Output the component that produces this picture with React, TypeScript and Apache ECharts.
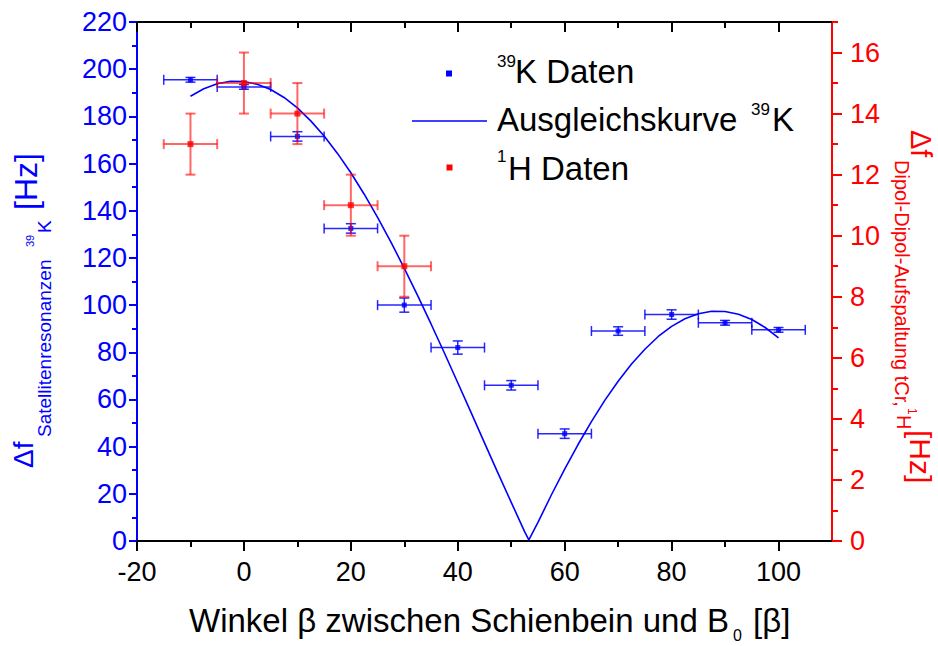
import React, { useEffect, useRef } from "react";
import * as echarts from "echarts";

// 39K satellite splitting vs. angle (left axis, Hz)
const kAngle = [-10, 0, 10, 20, 30, 40, 50, 60, 70, 80, 90, 100];
const kShift = [195.5, 192.5, 171.5, 132.5, 100, 82, 66, 45.5, 89, 96, 92.5, 89.5];
const kErrX = [5, 5, 5, 5, 5, 5, 5, 5, 5, 5, 5, 5];
const kErrY = [1, 1, 2, 2, 3, 2.8, 2, 2, 1.8, 2, 1, 1];

// 1H dipolar splitting vs. angle (right axis, Hz)
const hAngle = [-10, 0, 10, 20, 30];
const hShift = [13, 15, 14, 11, 9];
const hErrX = [5, 5, 5, 5, 5];
const hErrY = [1, 1, 1, 1, 1];

// fitted curve for the 39K data
const fitAngle = [
  -10, -7.5, -5, -2.5, 0, 2.5, 5, 7.5, 10, 12.5, 15, 17.5, 20, 22.5, 25, 27.5, 30,
  32.5, 35, 37.5, 40, 42.5, 45, 47.5, 50, 52.5, 53.3, 55, 57.5, 60, 62.5, 65, 67.5,
  70, 72.5, 75, 77.5, 80, 82.5, 85, 87.5, 90, 92.5, 95, 97.5, 100,
];
const fitShift = [
  188.5, 191.7, 193.8, 194.9, 194.8, 193.6, 191.4, 188.0, 183.6, 178.1, 171.7, 164.3,
  156.1, 147.0, 137.2, 126.7, 115.6, 104.0, 92.0, 79.7, 67.1, 54.4, 41.6, 28.9, 16.4,
  4.0, 0.5, 7.9, 19.5, 30.5, 40.9, 50.6, 59.6, 67.7, 75.0, 81.3, 86.7, 91.0, 94.2,
  96.3, 97.4, 97.3, 96.1, 93.9, 90.5, 86.1,
];

// tick positions
const xMajorTicks = [-20, 0, 20, 40, 60, 80, 100];
const xMinorTicks = [-10, 10, 30, 50, 70, 90];
const rightMajorTicks = [0, 2, 4, 6, 8, 10, 12, 14, 16];
const rightMinorTicks = [1, 3, 5, 7, 9, 11, 13, 15, 17];

const FONT = '"Liberation Sans", Arial, Helvetica, sans-serif';
const BLUE = "#0000ff";
const RED = "#ff0000";
const TICK_FONT = 27;

// text fragment placed by its baseline
function piece(text: string, x: number, baseline: number, size: number, fill: string) {
  return {
    type: "text",
    x,
    y: baseline - 0.35 * size,
    style: {
      text,
      fontSize: size,
      fontFamily: FONT,
      fill,
      align: "left",
      verticalAlign: "middle",
      textAlign: "left",
      textVerticalAlign: "middle",
    },
  };
}

function errorBars(color: string, width: number, opacity: number) {
  return (params: any, api: any) => {
    const x = api.value(0);
    const y = api.value(1);
    const ex = api.value(2);
    const ey = api.value(3);
    const L = api.coord([x - ex, y]);
    const R = api.coord([x + ex, y]);
    const T = api.coord([x, y + ey]);
    const B = api.coord([x, y - ey]);
    const cap = 5;
    const st = { stroke: color, lineWidth: width, opacity };
    const seg = (x1: number, y1: number, x2: number, y2: number) => ({
      type: "line",
      shape: { x1, y1, x2, y2 },
      style: st,
    });
    return {
      type: "group",
      children: [
        seg(L[0], L[1], R[0], R[1]),
        seg(L[0], L[1] - cap, L[0], L[1] + cap),
        seg(R[0], R[1] - cap, R[0], R[1] + cap),
        seg(T[0], T[1], B[0], B[1]),
        seg(T[0] - cap, T[1], T[0] + cap, T[1]),
        seg(B[0] - cap, B[1], B[0] + cap, B[1]),
      ],
    };
  };
}

function xAxisDef(position: "top" | "bottom", ticks: number[], len: number, showLine: boolean, showLabel: boolean) {
  return {
    type: "value",
    position,
    min: -20,
    max: 110,
    splitLine: { show: false },
    axisLine: { show: showLine, onZero: false, lineStyle: { color: "#000", width: 2 } },
    axisTick: {
      show: true,
      inside: position === "top",
      length: len,
      customValues: ticks,
      lineStyle: { color: "#000", width: 2 },
    },
    minorTick: { show: false },
    axisLabel: showLabel
      ? { show: true, customValues: xMajorTicks, color: "#000", fontSize: TICK_FONT, fontFamily: FONT, margin: 17 }
      : { show: false },
  };
}

const kData = kAngle.map((a, i) => [a, kShift[i], kErrX[i], kErrY[i]]);
const hData = hAngle.map((a, i) => [a, hShift[i], hErrX[i], hErrY[i]]);
const fitData = fitAngle.map((a, i) => [a, fitShift[i]]);

const leftTitle = {
  type: "group",
  x: 33,
  y: 468,
  rotation: Math.PI / 2,
  children: [
    piece("Δf", 0, 0, 28, BLUE),
    piece("Satellitenresonanzen", 31, 18, 19, BLUE),
    piece("39", 221, 1, 11, BLUE),
    piece("K", 235, 18, 19, BLUE),
    piece("[Hz]", 258, 4, 32, BLUE),
  ],
};

const rightTitle = {
  type: "group",
  x: 910,
  y: 130,
  rotation: -Math.PI / 2,
  children: [
    piece("Δf", 0, -1, 29, RED),
    piece("Dipol-Dipol-Aufspaltung tCr,", 30, 15, 20, RED),
    piece("1", 278, 2, 12, RED),
    piece("H", 285, 13, 20, RED),
    piece("[Hz]", 300, 0, 30, RED),
  ],
};

const xTitle = [
  piece("Winkel β zwischen Schienbein und B", 189, 632, 33, "#000"),
  piece("0", 733, 641, 16, "#000"),
  piece("[β]", 753, 632, 33, "#000"),
];

const legend = [
  { type: "rect", shape: { x: 446, y: 70.5, width: 6, height: 6 }, style: { fill: BLUE } },
  piece("39", 497, 67, 17, "#000"),
  piece("K Daten", 515, 83, 33, "#000"),
  { type: "line", shape: { x1: 412, y1: 121, x2: 487, y2: 121 }, style: { stroke: BLUE, lineWidth: 1.5 } },
  piece("Ausgleichskurve", 497, 131, 33, "#000"),
  piece("39", 751, 115, 17, "#000"),
  piece("K", 772, 131, 33, "#000"),
  { type: "rect", shape: { x: 446.5, y: 164.5, width: 6, height: 6 }, style: { fill: RED } },
  piece("1", 497, 162, 17, "#000"),
  piece("H Daten", 508, 180, 33, "#000"),
];

const option: any = {
  animation: false,
  backgroundColor: "#fff",
  grid: { left: 137, right: 106, top: 22, bottom: 105, containLabel: false },
  xAxis: [
    xAxisDef("bottom", xMajorTicks, 10, true, true),
    xAxisDef("bottom", xMinorTicks, 6, false, false),
    xAxisDef("top", xMajorTicks, 10, true, false),
    xAxisDef("top", xMinorTicks, 6, false, false),
  ],
  yAxis: [
    {
      type: "value",
      position: "left",
      min: 0,
      max: 220,
      interval: 20,
      splitLine: { show: false },
      axisLine: { show: true, onZero: false, lineStyle: { color: BLUE, width: 2 } },
      axisTick: { show: true, length: 8, lineStyle: { color: BLUE, width: 2 } },
      minorTick: { show: true, splitNumber: 2, length: 5, lineStyle: { color: BLUE, width: 2 } },
      axisLabel: { color: BLUE, fontSize: TICK_FONT, fontFamily: FONT, margin: 10 },
    },
    {
      type: "value",
      position: "right",
      min: 0,
      max: 17,
      splitLine: { show: false },
      axisLine: { show: true, onZero: false, lineStyle: { color: RED, width: 2 } },
      axisTick: { show: true, length: 10, customValues: rightMajorTicks, lineStyle: { color: RED, width: 2 } },
      minorTick: { show: false },
      axisLabel: { customValues: rightMajorTicks, color: RED, fontSize: TICK_FONT, fontFamily: FONT, margin: 18 },
    },
    {
      type: "value",
      position: "right",
      min: 0,
      max: 17,
      splitLine: { show: false },
      axisLine: { show: false, onZero: false },
      axisTick: { show: true, length: 6, customValues: rightMinorTicks, lineStyle: { color: RED, width: 2 } },
      minorTick: { show: false },
      axisLabel: { show: false },
    },
  ],
  series: [
    {
      name: "Ausgleichskurve 39K",
      type: "line",
      xAxisIndex: 0,
      yAxisIndex: 0,
      data: fitData,
      showSymbol: false,
      smooth: false,
      lineStyle: { color: BLUE, width: 1.6 },
      z: 2,
    },
    {
      name: "39K Fehler",
      type: "custom",
      xAxisIndex: 0,
      yAxisIndex: 0,
      data: kData,
      encode: { x: 0, y: 1 },
      renderItem: errorBars(BLUE, 1.5, 0.85),
      clip: false,
      z: 3,
    },
    {
      name: "39K Daten",
      type: "scatter",
      xAxisIndex: 0,
      yAxisIndex: 0,
      data: kData.map((d) => [d[0], d[1]]),
      symbol: "rect",
      symbolSize: 5,
      itemStyle: { color: BLUE },
      z: 4,
    },
    {
      name: "1H Fehler",
      type: "custom",
      xAxisIndex: 0,
      yAxisIndex: 1,
      data: hData,
      encode: { x: 0, y: 1 },
      renderItem: errorBars(RED, 2, 0.6),
      clip: false,
      z: 5,
    },
    {
      name: "1H Daten",
      type: "scatter",
      xAxisIndex: 0,
      yAxisIndex: 1,
      data: hData.map((d) => [d[0], d[1]]),
      symbol: "rect",
      symbolSize: 6,
      itemStyle: { color: RED },
      z: 6,
    },
  ],
  graphic: [leftTitle, rightTitle, ...xTitle, ...legend],
};

export default function App() {
  const ref = useRef<HTMLDivElement>(null);
  useEffect(() => {
    if (!ref.current) return;
    const chart = echarts.init(ref.current, null, { renderer: "svg", width: 938, height: 646 });
    chart.setOption(option);
    return () => chart.dispose();
  }, []);
  return (
    <div
      ref={ref}
      style={{ position: "fixed", left: 0, top: 0, width: 938, height: 646, background: "#fff" }}
    />
  );
}
